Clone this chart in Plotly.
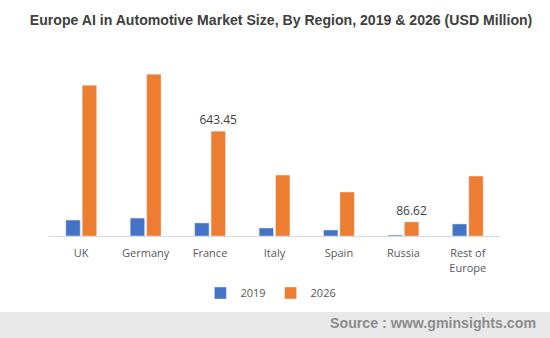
import plotly.graph_objects as go

regions = ["UK", "Germany", "France", "Italy", "Spain", "Russia", "Rest of<br>Europe"]
v2019 = [98, 110, 80, 49, 37, 6, 74]
v2026 = [925, 993, 643.45, 374, 270, 86.62, 368]
labels2026 = ["", "", "643.45", "", "", "86.62", ""]

fig = go.Figure()
fig.add_trace(go.Bar(x=regions, y=v2019, name="2019", marker_color="#4472C4"))
fig.add_trace(go.Bar(x=regions, y=v2026, name="2026", marker_color="#ED7D31",
                     text=labels2026, textposition="outside", constraintext="none",
                     textfont=dict(size=12, color="#404040", family="Open Sans"),
                     cliponaxis=False))

fig.update_layout(
    width=550, height=338,
    margin=dict(l=49, r=50, t=60, b=102),
    paper_bgcolor="white", plot_bgcolor="white",
    barmode="group", bargap=0.49, bargroupgap=0.12,
    title=dict(text="<b>Europe AI in Automotive Market Size, By Region, 2019 & 2026 (USD Million)</b>",
               x=0.511, xanchor="center", y=0.94, yanchor="middle",
               font=dict(family="Liberation Sans", size=14.1, color="#404040")),
    xaxis=dict(showline=True, linecolor="#d9d9d9", linewidth=1, ticks="",
               ticklabelstandoff=7,
               tickfont=dict(family="Open Sans", size=11, color="#595959")),
    yaxis=dict(visible=False, range=[0, 1080], showgrid=False),
    legend=dict(orientation="h", x=0.492, xanchor="center", y=-0.324, yanchor="middle",
                font=dict(family="Open Sans", size=11, color="#595959"),
                itemwidth=30, traceorder="normal"),
    showlegend=True,
)

fig.add_shape(type="rect", xref="paper", yref="paper",
              x0=-0.12, x1=1.12, y0=-0.432, y1=-0.6,
              fillcolor="#e8e8e8", line_width=0, layer="below")
fig.add_annotation(text="<b>Source : www.gminsights.com</b>", xref="paper", yref="paper",
                   x=(538 - 49) / 451, xanchor="right", y=(236 - 323) / 176, yanchor="middle",
                   showarrow=False,
                   font=dict(family="Liberation Sans", size=14.2, color="#8c8c8c"))

fig.write_html("out.html")
